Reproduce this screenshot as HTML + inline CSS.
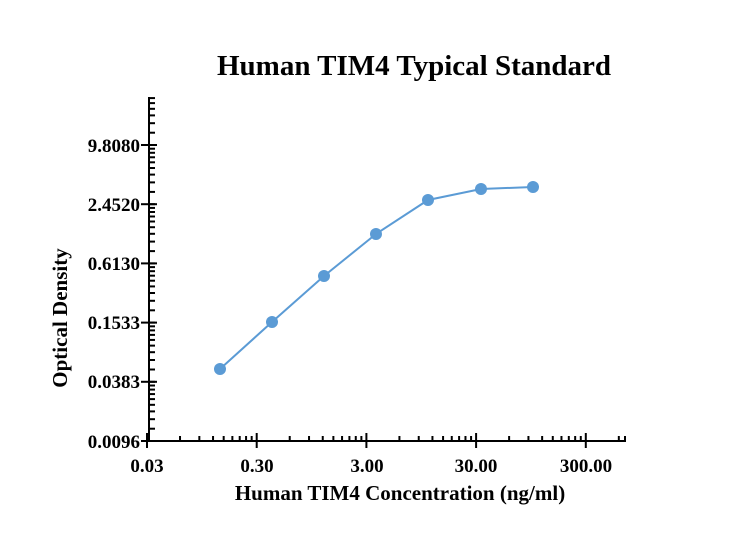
<!DOCTYPE html>
<html><head><meta charset="utf-8"><style>
body{margin:0;background:#fff;}
text{font-family:"Liberation Serif",serif;font-weight:bold;fill:#000;}
</style></head><body>
<svg width="737" height="553" xmlns="http://www.w3.org/2000/svg">
<text x="414" y="75" font-size="29" text-anchor="middle">Human TIM4 Typical Standard</text>
<g stroke="#000" stroke-width="2" fill="none">
<line x1="149" y1="97" x2="149" y2="442"/>
<line x1="148" y1="441" x2="626" y2="441"/>
</g>
<g id="ticks" stroke="#000" stroke-width="2"></g>
<g font-size="19" text-anchor="end">
<text x="140" y="152">9.8080</text>
<text x="140" y="211">2.4520</text>
<text x="140" y="270">0.6130</text>
<text x="140" y="329">0.1533</text>
<text x="140" y="388">0.0383</text>
<text x="140" y="448">0.0096</text>
</g>
<g font-size="19" text-anchor="middle">
<text x="147" y="472">0.03</text>
<text x="257" y="472">0.30</text>
<text x="367" y="472">3.00</text>
<text x="476" y="472">30.00</text>
<text x="586" y="472">300.00</text>
</g>
<text x="400" y="500" font-size="21" text-anchor="middle">Human TIM4 Concentration (ng/ml)</text>
<text transform="translate(67,318) rotate(-90)" font-size="21" text-anchor="middle">Optical Density</text>
<polyline points="220,369 272,322 324,276 376,234 428,200 481,189 533,187" fill="none" stroke="#5b9bd5" stroke-width="2"/>
<g fill="#5b9bd5">
<circle cx="220" cy="369" r="6"/><circle cx="272" cy="322" r="6"/><circle cx="324" cy="276" r="6"/><circle cx="376" cy="234" r="6"/><circle cx="428" cy="200" r="6"/><circle cx="481" cy="189" r="6"/><circle cx="533" cy="187" r="6"/>
</g>
</svg>
<script>
var g=document.getElementById('ticks'),s='';
function L(a,b,c,d){s+='<line x1="'+a+'" y1="'+b+'" x2="'+c+'" y2="'+d+'"/>';}
var dx=109.7;
for(var d=0;d<5;d++){var x0=147+d*dx;L(x0,441,x0,448);L(x0,441,x0,433);
 for(var k=2;k<=9;k++){var x=x0+Math.log10(k)*dx;if(x<626)L(x,441,x,436);}}
L(625,441,625,436);
var dy=59.2;
for(var d=0;d<6;d++){var y0=441-d*dy;L(149,y0,141,y0);L(149,y0,157,y0);
 for(var i=1;i<10;i++){var v=1+3*i/9;var y=y0-Math.log(v)/Math.log(4)*dy;if(y>97)L(149,y,155,y);}}
g.innerHTML=s;
</script>
</body></html>
